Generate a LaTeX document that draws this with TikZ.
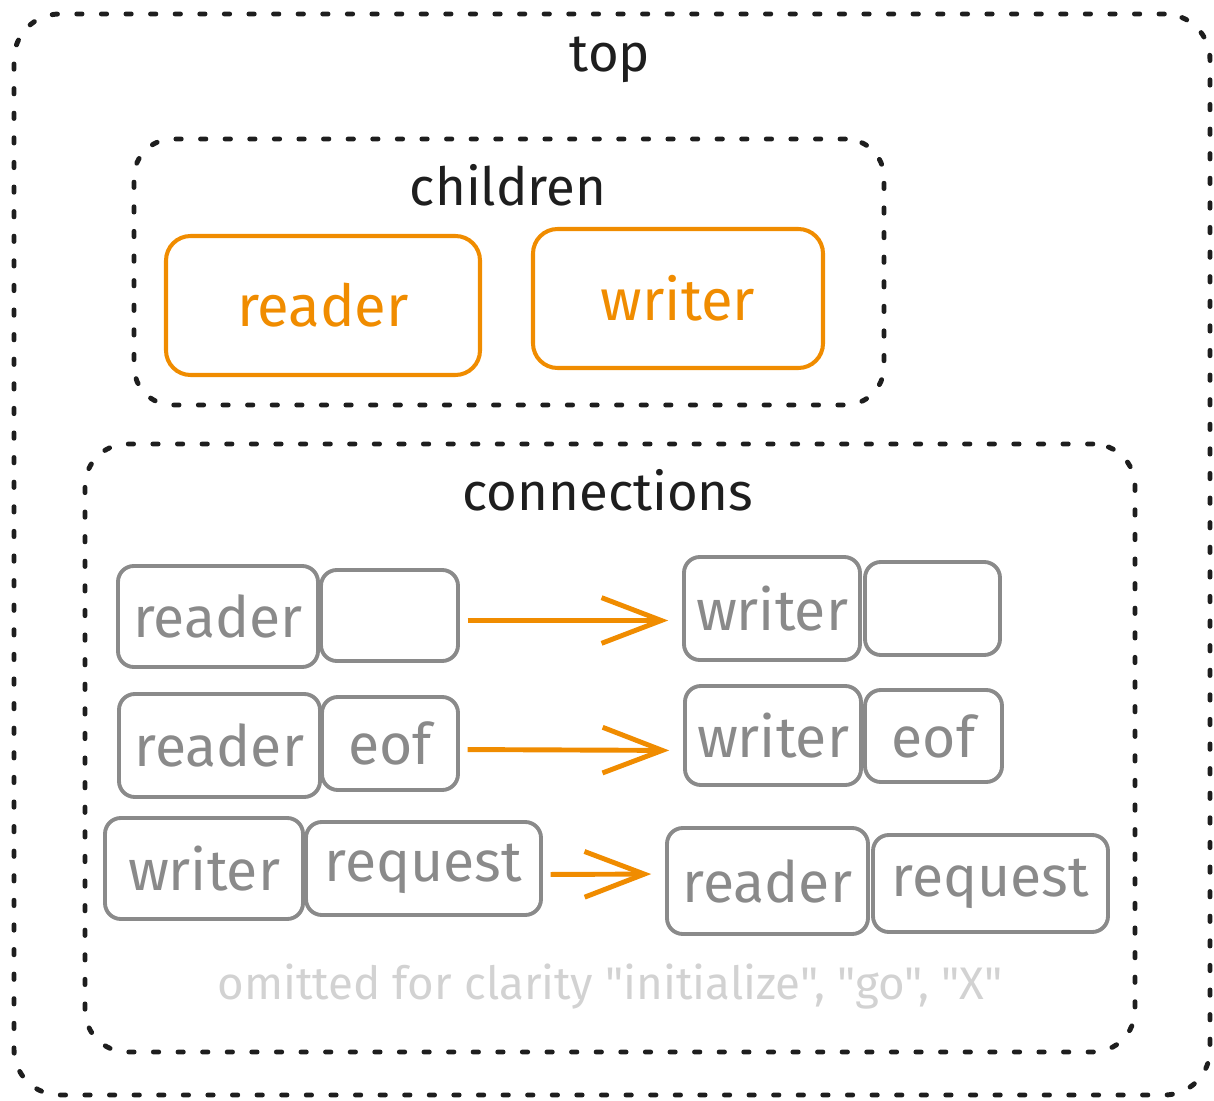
\documentclass[tikz,border=0pt]{standalone}
\usepackage{fontspec}
\setmainfont{Fira Sans}
\newfontfamily\notefont{Fira Sans}[Ligatures=TeXOff]
\usetikzlibrary{arrows.meta,calc}
\definecolor{orng}{HTML}{F08C00}
\definecolor{gry}{HTML}{8A8A8A}
\definecolor{lgry}{HTML}{D2D2D2}
\definecolor{ink}{HTML}{1E1E1E}
\tikzset{
  dotbox/.style={draw=ink, line width=2.8pt, dash pattern=on 3pt off 11pt, line cap=round, rounded corners=26pt, inner sep=0pt, outer sep=0pt},
  obox/.style={draw=orng, line width=2.3pt, rounded corners=14pt, inner sep=0pt, outer sep=0pt, text=orng, font=\fontsize{33}{36}\selectfont},
  gbox/.style={draw=gry, line width=2.2pt, rounded corners=9pt, inner sep=0pt, outer sep=0pt, text=gry, font=\fontsize{32.5}{36}\selectfont},
  ttl/.style={text=ink, font=\fontsize{30}{33}\selectfont, inner sep=0pt},
  arr/.style={draw=orng, line width=2.8pt, -{Straight Barb[length=34pt,width=26pt,line width=2.8pt]}, shorten <=5.5pt, shorten >=9pt},
  note/.style={text=lgry, font=\notefont\fontsize{26}{29}\selectfont, inner sep=0pt}
}
\newcommand\mybox[7]{\node[#6, minimum width={(#4-#2)*0.02cm}, minimum height={(#5-#3)*0.02cm}] (#1) at ({(#2+#4)/2},{(#3+#5)/2}) {#7};}
\begin{document}
\begin{tikzpicture}[x=0.02cm,y=-0.02cm]
\useasboundingbox (0,0) rectangle (1214,1101);
% containers
\mybox{top}{14}{14}{1210}{1095}{dotbox}{}
\node[ttl] (toplbl) at (610,60) {top};
\mybox{children}{134}{139}{884}{405}{dotbox, rounded corners=22pt}{}
\node[ttl] (chlbl) at (508,185) {children};
\mybox{connections}{85}{444}{1135}{1052}{dotbox, rounded corners=24pt}{}
\node[ttl] (cnlbl) at (608,490) {connections};
% children
\mybox{rd}{166}{236}{480}{375}{obox}{reader}
\mybox{wr}{533}{229}{823}{368}{obox}{writer}
% row 1
\mybox{r1}{118}{566}{318}{667}{gbox}{reader}
\mybox{e1}{321}{570}{458}{661}{gbox}{}
\mybox{w1}{684}{557}{860}{660}{gbox}{writer}
\mybox{f1}{865}{562}{1000}{655}{gbox}{}
% row 2
\mybox{r2}{119}{694}{320}{797}{gbox}{reader}
\mybox{e2}{322}{697}{458}{790}{gbox}{eof}
\mybox{w2}{685}{686}{861}{785}{gbox}{writer}
\mybox{f2}{865}{690}{1002}{782}{gbox}{eof}
% row 3
\mybox{w3}{105}{818}{303}{919}{gbox}{writer}
\mybox{q3}{306}{822}{541}{915}{gbox}{request}
\mybox{r3}{667}{828}{868}{934}{gbox}{reader}
\mybox{q4}{873}{835}{1108}{932}{gbox}{request}
% arrows
\draw[arr] ($(e1.east)+(0,5)$) -- ($(w1.west)+(0,12)$);
\draw[arr] ($(e2.east)+(0,6)$) -- ($(w2.west)+(0,15)$);
\draw[arr] ($(q3.east)+(0,6)$) -- ($(r3.west)+(0,-7)$);
% note
\node[note] (nt) at (610,987) {omitted for clarity "initialize", "go", "X"};
\end{tikzpicture}
\end{document}
